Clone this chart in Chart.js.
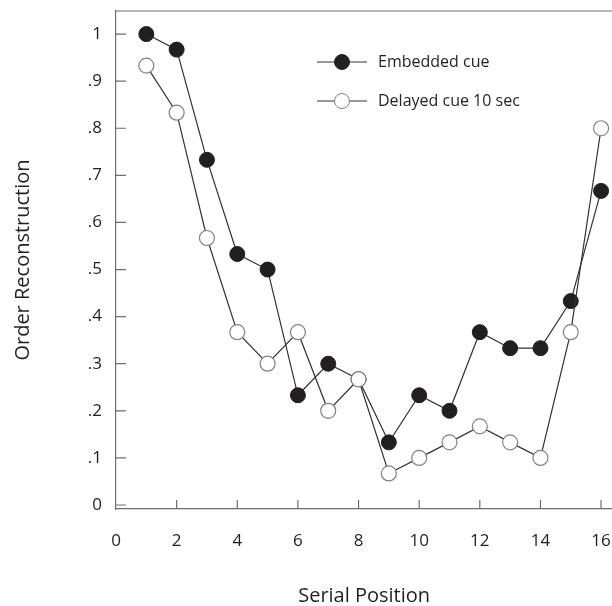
<!DOCTYPE html>
<html>
<head>
<meta charset="utf-8">
<script src="https://cdn.jsdelivr.net/npm/chart.js@4/dist/chart.umd.min.js"></script>
<style>
  html, body { margin: 0; padding: 0; background: #fff; overflow: hidden; }
  canvas { display: block; }
</style>
</head>
<body>
<canvas id="chart" width="621" height="606"></canvas>
<script>
var positions = [1, 2, 3, 4, 5, 6, 7, 8, 9, 10, 11, 12, 13, 14, 15, 16];
var embeddedCue = [1.0, 0.967, 0.733, 0.533, 0.5, 0.233, 0.3, 0.267, 0.133, 0.233, 0.2, 0.367, 0.333, 0.333, 0.433, 0.667];
var delayedCue = [0.933, 0.833, 0.567, 0.367, 0.3, 0.367, 0.2, 0.267, 0.067, 0.1, 0.133, 0.167, 0.133, 0.1, 0.367, 0.8];
var xTicks = [0, 2, 4, 6, 8, 10, 12, 14, 16];
var yTicks = [0, 0.1, 0.2, 0.3, 0.4, 0.5, 0.6, 0.7, 0.8, 0.9, 1];
var seriesNames = ['Embedded cue', 'Delayed cue 10 sec'];

var ink = '#231f20';
var axisGray = '#6d6e71';
var font = '"Open Sans", sans-serif';

function pts(vals) {
    return vals.map(function (v, i) { return {x: positions[i], y: v}; });
}

// inward tick marks, top frame line and legend
var extras = {
    id: 'extras',
    afterDraw: function (chart) {
        var ctx = chart.ctx, a = chart.chartArea;
        var xs = chart.scales.x, ys = chart.scales.y;
        ctx.save();
        ctx.strokeStyle = axisGray;
        ctx.lineWidth = 1.2;
        ctx.beginPath();
        ctx.moveTo(a.left, a.top);
        ctx.lineTo(chart.width, a.top);
        xTicks.forEach(function (v) {
            if (v === 0) return;
            var px = xs.getPixelForValue(v);
            ctx.moveTo(px, a.bottom);
            ctx.lineTo(px, a.bottom - 9);
        });
        yTicks.forEach(function (v) {
            var py = ys.getPixelForValue(v);
            ctx.moveTo(a.left, py);
            ctx.lineTo(a.left + 10, py);
        });
        ctx.stroke();

        // legend
        var lx = 317, ly = [62, 101];
        chart.data.datasets.forEach(function (ds, i) {
            var y = ly[i];
            ctx.strokeStyle = '#333';
            ctx.lineWidth = 1;
            ctx.beginPath();
            ctx.moveTo(lx, y);
            ctx.lineTo(lx + 50, y);
            ctx.stroke();
            ctx.beginPath();
            ctx.arc(lx + 25, y, 7.5, 0, Math.PI * 2);
            ctx.fillStyle = ds.pointBackgroundColor;
            ctx.fill();
            ctx.strokeStyle = ds.pointBorderColor;
            ctx.stroke();
            ctx.fillStyle = ink;
            ctx.font = '16px ' + font;
            ctx.textBaseline = 'middle';
            ctx.textAlign = 'left';
            ctx.fillText(ds.label, lx + 61, y);
        });
        ctx.restore();
    }
};

var ctx = document.getElementById('chart').getContext('2d');
new Chart(ctx, {
    type: 'line',
    data: {
        datasets: [
            {
                label: seriesNames[0],
                data: pts(embeddedCue),
                borderColor: '#333',
                borderWidth: 1.2,
                pointRadius: 7.5,
                pointBackgroundColor: ink,
                pointBorderColor: ink,
                pointBorderWidth: 1,
                tension: 0,
                order: 1
            },
            {
                label: seriesNames[1],
                data: pts(delayedCue),
                borderColor: '#333',
                borderWidth: 1.2,
                pointRadius: 7.5,
                pointBackgroundColor: '#ffffff',
                pointBorderColor: '#808285',
                pointBorderWidth: 1.2,
                tension: 0,
                order: 0
            }
        ]
    },
    options: {
        responsive: false,
        animation: false,
        clip: false,
        layout: {padding: {top: 11, right: 0, left: 0, bottom: 0}},
        plugins: {
            legend: {display: false},
            tooltip: {enabled: false}
        },
        scales: {
            x: {
                type: 'linear',
                min: 0,
                max: 16.37,
                afterBuildTicks: function (s) { s.ticks = xTicks.map(function (v) { return {value: v}; }); },
                afterFit: function (s) { s.height = 97; s.paddingLeft = 0; s.paddingRight = 0; },
                grid: {display: false},
                border: {display: true, color: axisGray, width: 1.2},
                ticks: {
                    color: ink,
                    padding: 14,
                    maxRotation: 0,
                    font: {family: font, size: 17}
                },
                title: {
                    display: true,
                    text: 'Serial Position',
                    color: ink,
                    font: {family: font, size: 20},
                    padding: {top: 0, bottom: -2}
                }
            },
            y: {
                min: -0.0085,
                max: 1.049,
                afterBuildTicks: function (s) { s.ticks = yTicks.map(function (v) { return {value: v}; }); },
                afterFit: function (s) { s.width = 116; s.paddingTop = 0; s.paddingBottom = 0; },
                grid: {display: false},
                border: {display: true, color: axisGray, width: 1.2},
                ticks: {
                    color: ink,
                    padding: 6,
                    font: {family: font, size: 17},
                    callback: function (v) {
                        if (v === 0 || v === 1) return String(v);
                        return v.toFixed(1).replace('0.', '.');
                    }
                },
                title: {
                    display: true,
                    text: 'Order Reconstruction',
                    color: ink,
                    font: {family: font, size: 20},
                    padding: {top: 11, bottom: 0}
                }
            }
        }
    },
    plugins: [extras]
});
</script>
</body>
</html>
